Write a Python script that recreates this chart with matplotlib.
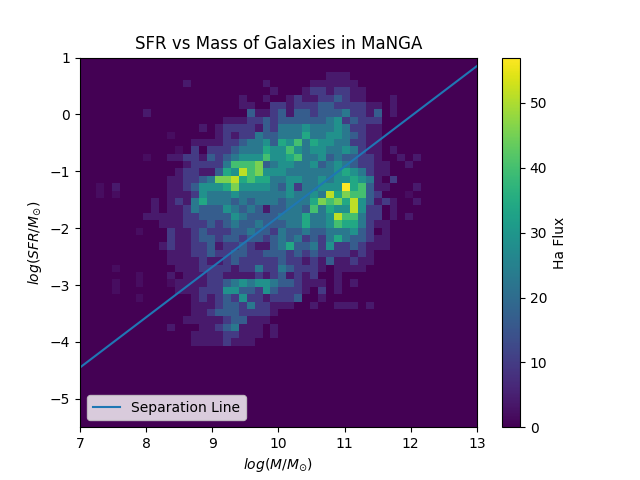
import numpy as np
import matplotlib
matplotlib.use("Agg")
import matplotlib.pyplot as plt

x_range = (7.0, 13.0)
y_range = (-5.5, 1.0)
n_bins = 50

# Colour level of each cell ('.'=0, '+'=faint, '1'..'9','a'=max)
level_values = {'.': 0.0, '+': 2.0, '1': 4.0, '2': 10.0, '3': 16.5, '4': 22.8,
                '5': 28.5, '6': 34.2, '7': 39.9, '8': 45.6, '9': 51.3, 'a': 57.0}

# Rows from top (y = 1) to bottom (y = -5.5); columns from x = 7 to x = 13
flux_rows = [
    ".......... .......... .......... .......... ..........",
    ".......... .......... .......... .......... ..........",
    ".......... .......... .......... .111...... ..........",
    ".......... ...1...... ...1.....1 11111..... ..........",
    ".......... .......... ....1...12 212211.... ..........",
    ".......... .......... 1..1..1211 223211...1 ..........",
    ".......... .......... 11..221222 33222211.1 ..........",
    "........1. .......... .311231332 33342213.1 ..........",
    ".......... ........11 1223233333 34523222.. ..........",
    ".......... .....1.122 2213244454 44542211.. ..........",
    ".......... .+.....121 2243344464 45543211.. ..........",
    ".......... ....111122 3445365746 55442211.. ..........",
    ".......... ..+.2.2223 4446557545 54454211.1 ..........",
    "........+. .112213234 5557556744 53433221.. 1.1.......",
    ".......... ...1222247 7783455445 345432211. .1........",
    ".......... ..12211365 9785554444 445654211. ..........",
    ".......... .112234889 6766445544 54556541.2 ..........",
    "..+.1..... .112355568 5555435244 555a67311. ..1.......",
    "..+.+..... .111254445 4444445445 49687732.. .+........",
    ".........1 .121464443 4344434446 8786953121 ..1.......",
    ".........1 .112433354 3431334437 46559522.1 ..........",
    "........11 1112233335 4333344464 45977422.1 .1........",
    ".......... 1112223234 3343334464 457664211. ..........",
    ".......+.. .211232223 3433243343 3444532.1. ..........",
    ".......... .211233233 2332343423 246433211. ..........",
    ".......... 1211223122 3211346334 252232111. ..........",
    ".......... .111223223 3223332323 2222121... ..........",
    ".......... .111121123 2222232212 1311211... ..........",
    "....+..... ..11122221 2242243222 1.1111.... ..........",
    ".......+.. .1.1112211 1121231212 ..1....... ..........",
    "....+..+.. .+11112234 5455433211 1.1.1..... ..........",
    "....+..... ..11122255 332532221. 2.1....... ..........",
    ".......+.. ....121232 52212223.. 1......... ..........",
    ".......... ....111233 2422111..1 ..111.1... ..........",
    ".......... ....112333 22221..... .......... ..........",
    ".......... ...1111123 3111...... .......... ..........",
    ".......... .1...11234 111.1..... .......... ..........",
    ".......... ....111122 111.1..... .......... ..........",
    ".......... ....111121 11........ .......... ..........",
    ".......... .......... .......... .......... ..........",
    ".......... .......... .......... .......... ..........",
    ".......... .......... .......... .......... ..........",
    ".......... .......... .......... .......... ..........",
    ".......... .......... .......... .......... ..........",
    ".......... .......... .......... .......... ..........",
    ".......... .......... .......... .......... ..........",
    ".......... .......... .......... .......... ..........",
    ".......... .......... .......... .......... ..........",
    ".......... .......... .......... .......... ..........",
    ".......... .......... .......... .......... ..........",
]

# Separation line end points
line_x = [7.0, 13.0]
line_y = [-4.45, 0.85]

grid = np.array([[level_values[c] for c in row.replace(" ", "")] for row in flux_rows])
grid = grid[::-1]  # bottom row first

x_edges = np.linspace(x_range[0], x_range[1], n_bins + 1)
y_edges = np.linspace(y_range[0], y_range[1], n_bins + 1)
xc = 0.5 * (x_edges[:-1] + x_edges[1:])
yc = 0.5 * (y_edges[:-1] + y_edges[1:])
X, Y = np.meshgrid(xc, yc)

fig, ax = plt.subplots(figsize=(6.4, 4.8), dpi=100)
h = ax.hist2d(X.ravel(), Y.ravel(), bins=[x_edges, y_edges],
              weights=grid.ravel(), cmap='viridis')
cb = fig.colorbar(h[3], ax=ax)
cb.set_label('Ha Flux')

ax.plot(line_x, line_y, label='Separation Line')
ax.set_xlim(*x_range)
ax.set_ylim(*y_range)
ax.set_xlabel(r'$log(M/M_{\odot})$')
ax.set_ylabel(r'$log(SFR/M_{\odot})$')
ax.set_title('SFR vs Mass of Galaxies in MaNGA')
ax.legend(loc='lower left')

fig.savefig('out.png')
